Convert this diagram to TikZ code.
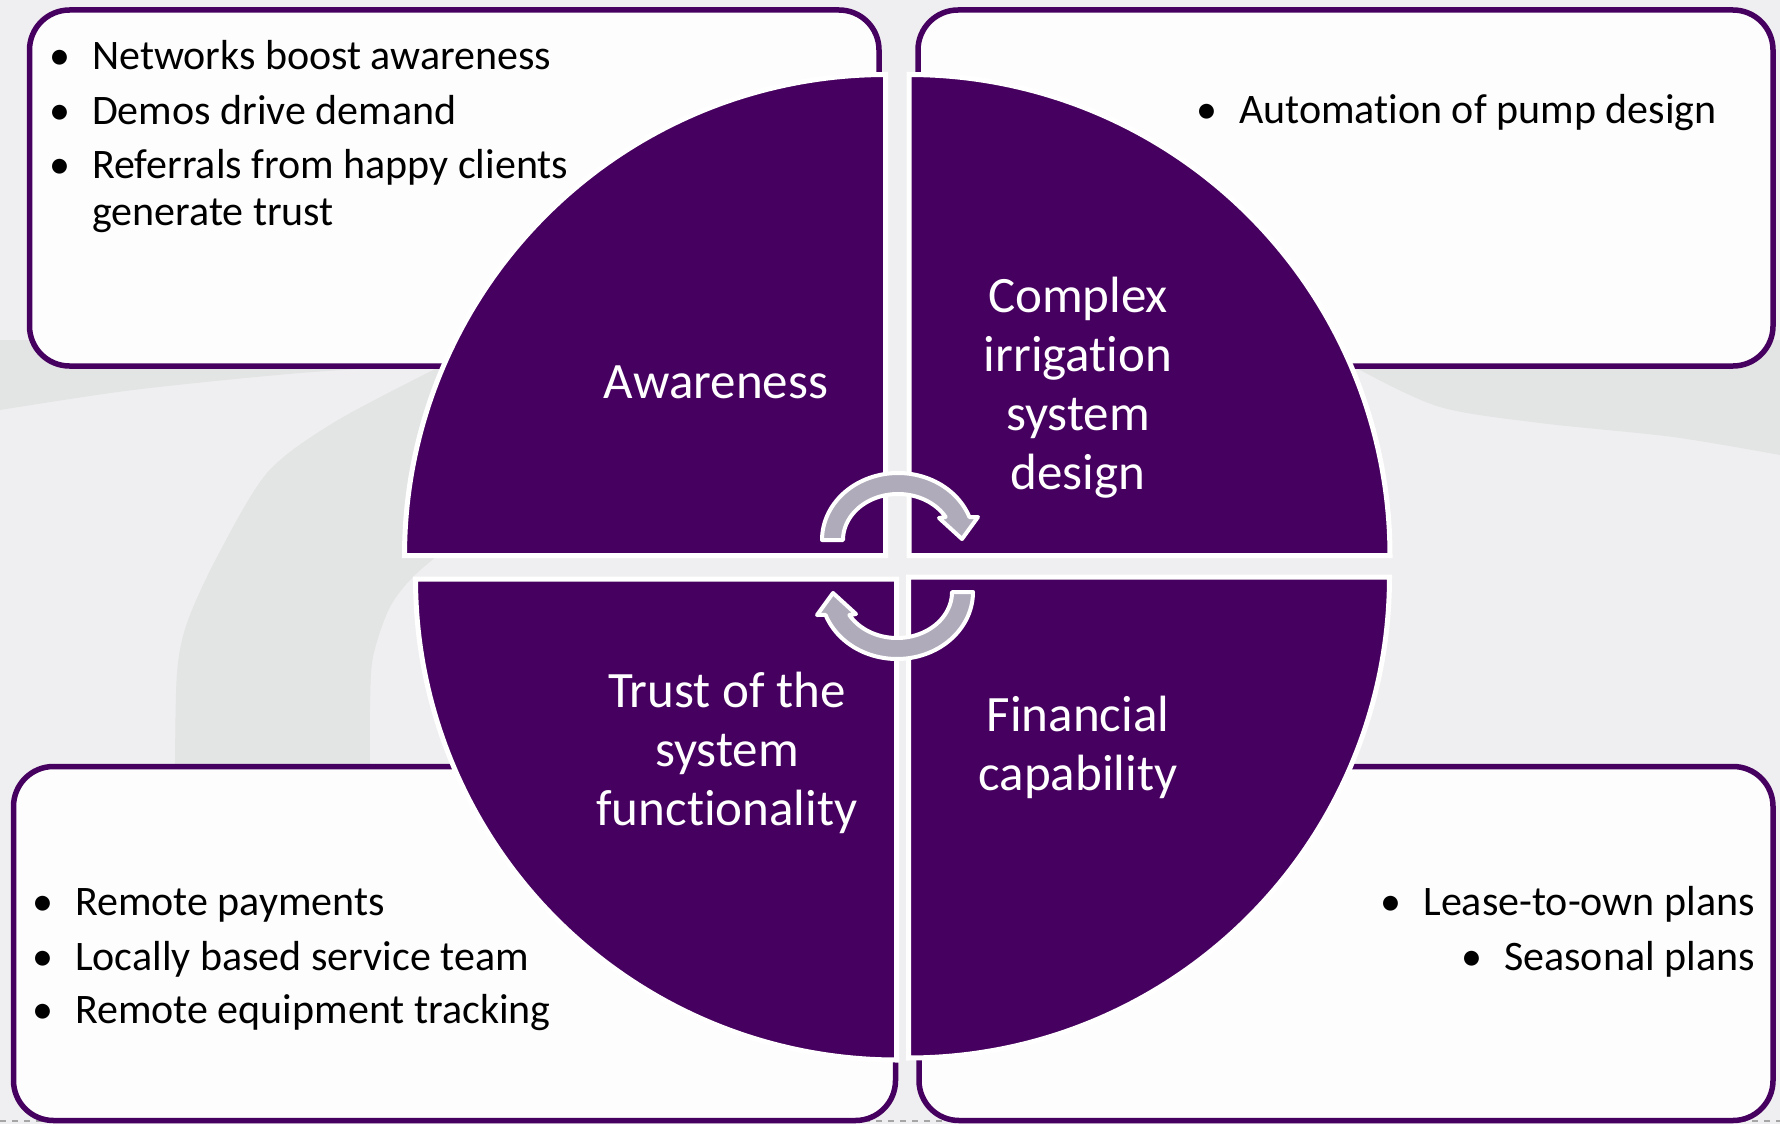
\documentclass[tikz,border=0pt]{standalone}
\usepackage{fontspec}
\setmainfont{Carlito}[Ligatures=NoCommon]
\usetikzlibrary{calc}
\definecolor{plum}{HTML}{46005F}
\definecolor{bgpale}{HTML}{EFEFF1}
\definecolor{bgshade}{HTML}{E3E4E4}
\definecolor{cardfill}{HTML}{FDFDFD}
\definecolor{cyclegrey}{HTML}{B0ABBA}
\newcommand\dotmark{\llap{\textbullet\hspace{22pt}}}
\begin{document}
\begin{tikzpicture}[x=1pt,y=-1pt,
  card/.style={draw=plum, line width=5.5pt, fill=cardfill, rounded corners=40pt},
  quadrant/.style={fill=plum, draw=white, line width=5pt, line join=miter},
  cyclearrow/.style={fill=cyclegrey, draw=white, line width=4pt, line join=round},
  itemtext/.style={font=\fontsize{42}{47}\selectfont, inner sep=0pt, align=left, anchor=base west, text=black},
  itemright/.style={itemtext, anchor=base east},
  qtitle/.style={font=\fontsize{51}{59}\selectfont, inner sep=0pt, align=center, anchor=base, text=white}]

% backdrop with soft swirl shading
\fill[bgpale] (0,0) rectangle (1780,1124);
\useasboundingbox (0,0) rectangle (1780,1124);
\fill[bgshade] (0,340) -- (470,340) -- (470,362)
  -- plot[smooth] coordinates {(433,365) (300,373) (133,390) (0,410)} -- cycle;
\fill[bgshade] plot[smooth] coordinates {(470,352) (433,370) (333,423) (267,473) (217,557) (187,623) (177,673) (175,763) (175,800)}
  -- (370,800)
  -- plot[smooth] coordinates {(370,763) (370,707) (373,657) (390,607) (417,573) (470,530)} -- cycle;
\fill[bgshade] (1330,340) -- (1780,340)
  -- plot[smooth] coordinates {(1780,455) (1673,437) (1540,423) (1440,407) (1360,370) (1340,355)} -- cycle;
\draw[gray!70, line width=1.5pt, dash pattern=on 6pt off 6pt] (0,1121) -- (1780,1121);

% four text cards
\draw[card] (29.5,10) rectangle (879,366);
\draw[card] (918,10) rectangle (1773,366);
\draw[card] (13.5,766.5) rectangle (895.5,1120.5);
\draw[card] (919,766.5) rectangle (1773,1120.5);

% quartered disc
\def\R{481}
\filldraw[quadrant] (885.5,555.5) -- plot[domain=180:270, samples=90] ({885.5+\R*cos(\x)},{555.5+\R*sin(\x)}) -- cycle;
\filldraw[quadrant] (909,555.5) -- plot[domain=270:360, samples=90] ({909+\R*cos(\x)},{555.5+\R*sin(\x)}) -- cycle;
\filldraw[quadrant] (908.5,577) -- plot[domain=0:90, samples=90] ({908.5+\R*cos(\x)},{577+\R*sin(\x)}) -- cycle;
\filldraw[quadrant] (896.5,579) -- plot[domain=90:180, samples=90] ({896.5+\R*cos(\x)},{579+\R*sin(\x)}) -- cycle;

% circular arrows in the middle
\filldraw[cyclearrow] plot[domain=180:340, samples=60] ({898+76*cos(\x)},{540+67*sin(\x)})
  -- (978,517) -- (962,539) -- (939,518)
  -- plot[domain=330:180, samples=60] ({898+55*cos(\x)},{540+46*sin(\x)}) -- cycle;
\begin{scope}[rotate around={180:(897.5,566)}]
\filldraw[cyclearrow] plot[domain=180:340, samples=60] ({898+76*cos(\x)},{540+67*sin(\x)})
  -- (978,517) -- (962,539) -- (939,518)
  -- plot[domain=330:180, samples=60] ({898+55*cos(\x)},{540+46*sin(\x)}) -- cycle;
\end{scope}

% quadrant titles (base anchor sits on the last line)
\node[qtitle] (aware) at (716,398) {Awareness};
\node[qtitle] (design) at (1078,489) {Complex\\irrigation\\system\\design};
\node[qtitle] (trust) at (727,825) {Trust of the\\system\\functionality};
\node[qtitle] (finance) at (1078,790) {Financial\\capability};

% bullet points
\node[itemtext] (net) at (92,70) {\dotmark Networks boost awareness};
\node[itemtext] (demo) at (92,124) {\dotmark Demos drive demand};
\node[itemtext] (refer) at (92,225) {\dotmark Referrals from happy clients\\generate trust};
\node[itemtext] (pump) at (1239,123) {\dotmark Automation of pump design};
\node[itemtext] (pay) at (75,915) {\dotmark Remote payments};
\node[itemtext] (team) at (75,970) {\dotmark Locally based service team};
\node[itemtext] (track) at (75,1023) {\dotmark Remote equipment tracking};
\node[itemright] (lease) at (1755,915) {\dotmark Lease-to-own plans};
\node[itemright] (season) at (1755,970) {\dotmark Seasonal plans};
\end{tikzpicture}
\end{document}
